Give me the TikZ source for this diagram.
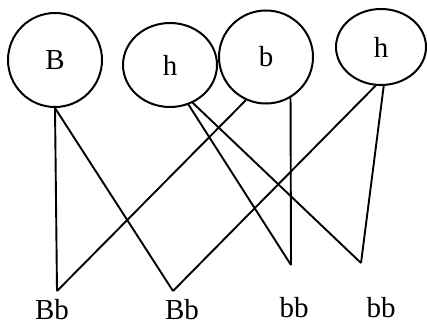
\documentclass[tikz,border=0pt]{standalone}
\usepackage{fontspec}
\setmainfont{Liberation Serif}
\usepackage{tikz}
\usetikzlibrary{shapes.geometric}

\begin{document}
\begin{tikzpicture}[
    x=1pt, y=-1pt,
    every node/.style={font=\fontsize{29}{32}\selectfont},
    gamete/.style={ellipse, draw, line width=2pt, inner sep=0pt},
    geno/.style={inner sep=0pt, anchor=base, text depth=0pt},
    link/.style={line width=1.9pt}
]
\useasboundingbox (0,0) rectangle (427,326);

% Gametes
\node[gamete, minimum width=94pt, minimum height=94pt] (B1) at (55,60) {B};
\node[gamete, minimum width=94pt, minimum height=84pt] (h1) at (170,65) {h};
\node[gamete, minimum width=94pt, minimum height=93pt] (b1) at (266,57) {b};
\node[gamete, minimum width=90pt, minimum height=76pt] (h2) at (381,47) {h};

% Meeting points
\coordinate (v1) at (57,291);
\coordinate (v2) at (173,291);
\coordinate (v3) at (291,265);
\coordinate (v4) at (361,263);

% Offspring
\node[geno] (g1) at (52,319) {Bb};
\node[geno] (g2) at (182,319) {Bb};
\node[geno] (g3) at (294,317) {bb};
\node[geno] (g4) at (381,317) {bb};

% Crosses
\draw[link] (B1.south) -- (v1);
\draw[link] (B1.south) -- (v2);
\draw[link] (h1.-65) -- (v3);
\draw[link] (h1.-59) -- (v4);
\draw[link] (b1.-115) -- (v1);
\draw[link] (b1.-59) -- (v3);
\draw[link] (h2.-98) -- (v2);
\draw[link] (h2.-86) -- (v4);

\end{tikzpicture}
\end{document}
